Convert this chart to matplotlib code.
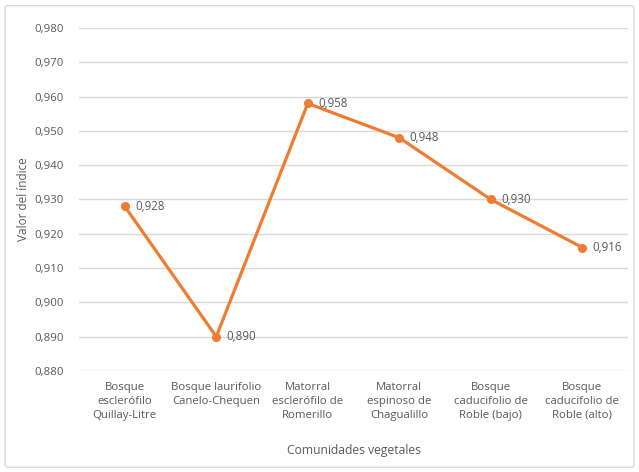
import matplotlib
matplotlib.use("Agg")
import matplotlib.pyplot as plt
from matplotlib.patches import FancyBboxPatch

plt.rcParams['font.family'] = ['Open Sans', 'DejaVu Sans']

categories = [
    "Bosque\nesclerófilo\nQuillay-Litre",
    "Bosque laurifolio\nCanelo-Chequen",
    "Matorral\nesclerófilo de\nRomerillo",
    "Matorral\nespinoso de\nChagualillo",
    "Bosque\ncaducifolio de\nRoble (bajo)",
    "Bosque\ncaducifolio de\nRoble (alto)",
]
values = [0.928, 0.890, 0.958, 0.948, 0.930, 0.916]
yticks = [0.880, 0.890, 0.900, 0.910, 0.920, 0.930, 0.940, 0.950, 0.960, 0.970, 0.980]

text_gray = "#595959"
line_orange = "#ED7D31"
grid_gray = "#D9D9D9"

fig = plt.figure(figsize=(6.39, 4.72), dpi=100)
ax = fig.add_axes([0.1236, 0.214, 0.8594, 0.7267])

x = list(range(len(values)))
ax.plot(x, values, color=line_orange, linewidth=2.3, marker='o', markersize=5.5,
        solid_capstyle='round', zorder=3)

for xi, v in zip(x, values):
    ax.annotate(f"{v:.3f}".replace('.', ','), (xi, v), xytext=(7.5, 0),
                textcoords='offset points', ha='left', va='center',
                fontsize=8.3, color=text_gray)

ax.set_xlim(-0.5, len(values) - 0.5)
ax.set_ylim(yticks[0], yticks[-1])
ax.set_yticks(yticks)
ax.set_yticklabels([f"{t:.3f}".replace('.', ',') for t in yticks])
ax.set_xticks(x)
ax.set_xticklabels(categories, linespacing=1.35)
ax.tick_params(axis='both', length=0, labelsize=8.2, colors=text_gray)
ax.tick_params(axis='y', pad=11)
ax.tick_params(axis='x', pad=8)
ax.grid(axis='y', color=grid_gray, linewidth=1)
ax.set_axisbelow(True)
for s in ax.spines.values():
    s.set_visible(False)

ax.set_ylabel("Valor del índice", fontsize=8.5, color=text_gray, labelpad=3)
ax.set_xlabel("Comunidades vegetales", fontsize=8.7, color=text_gray, labelpad=17)

border = FancyBboxPatch((0.008, 0.01), 0.984, 0.978, boxstyle="round,pad=0,rounding_size=0.005",
                        transform=fig.transFigure, facecolor='none', edgecolor='#D9D9D9',
                        linewidth=1)
fig.patches.append(border)

fig.savefig("out.png", dpi=100)
